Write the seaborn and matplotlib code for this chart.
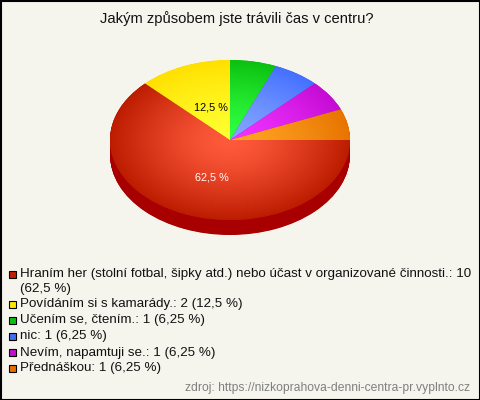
import numpy as np
import matplotlib
matplotlib.use('Agg')
import matplotlib.pyplot as plt
from matplotlib.patches import Rectangle
import seaborn as sns

title = 'Jakým způsobem jste trávili čas v centru?'
source = 'zdroj: https://nizkoprahova-denni-centra-pr.vyplnto.cz'
counts = [10, 2, 1, 1, 1, 1]
legend_lines = [
    'Hraním her (stolní fotbal, šipky atd.) nebo účast v organizované činnosti.: 10',
    '(62,5 %)',
    'Povídáním si s kamarády.: 2 (12,5 %)',
    'Učením se, čtením.: 1 (6,25 %)',
    'nic: 1 (6,25 %)',
    'Nevím, napamtuji se.: 1 (6,25 %)',
    'Přednáškou: 1 (6,25 %)',
]
line_y = [274, 289, 304, 320, 336, 353, 368]
swatch_y = [274, 304, 320, 336, 352, 368]
inner_colors = ['#ff5a3c', '#ffff30', '#30ff40', '#84a4ff', '#f033ff', '#ffa424']
outer_colors = ['#bc1c00', '#ffe000', '#0cc010', '#4470ff', '#c40cd4', '#e87400']
swatch_colors = ['#c02000', '#ffe800', '#10c010', '#4070f0', '#c010d0', '#e87000']
side_color = '#a80000'
bg = '#f5f5ee'

sns.set_theme(style='white', rc={'figure.facecolor': bg, 'axes.facecolor': bg})
plt.rcParams['font.family'] = ['Liberation Sans', 'DejaVu Sans']

fig = plt.figure(figsize=(4.8, 4), dpi=100)
ax = fig.add_axes([0, 0, 1, 1])

# pie depth, stacked copies going down
for d in np.linspace(15 / 80, 0, 31)[:-1]:
    ax.pie([1], colors=[side_color], radius=1, center=(0, -d), startangle=0,
           wedgeprops={'linewidth': 0})


def pct_label(p):
    return f'{p:.1f} %'.replace('.', ',') if p > 10 else ''


wedges, _, pcts = ax.pie(counts, colors=outer_colors, startangle=0, counterclock=False,
                         radius=1, autopct=pct_label, pctdistance=0.47,
                         textprops={'fontsize': 7.8}, wedgeprops={'linewidth': 0})
pcts[0].set_color('white')
pcts[1].set_color('black')

# radial gradient per slice
gx, gy = np.meshgrid(np.linspace(-1, 1, 500), np.linspace(-1, 1, 500))
dist = np.clip(np.hypot(gx, gy), 0, 1) ** 1.4
for w, c0, c1 in zip(wedges, inner_colors, outer_colors):
    cmap = sns.blend_palette([c0, c1], as_cmap=True)
    im = ax.imshow(dist, cmap=cmap, extent=(-1, 1, -1, 1), origin='lower',
                   aspect='auto', zorder=w.get_zorder() + 0.5, vmin=0, vmax=1)
    im.set_clip_path(w)
for t in pcts:
    t.set_zorder(10)
    x, y = t.get_position()
    t.set_position((x + 3 / 120, y - 2.5 / 80))

ax.set_xlim(-230 / 120, 250 / 120)
ax.set_ylim((140 - 400) / 80, 140 / 80)
ax.set_aspect('auto')
ax.axis('off')

# overlay in pixel units for texts and the frame
ov = fig.add_axes([0, 0, 1, 1], facecolor='none')
ov.set_xlim(0, 480)
ov.set_ylim(400, 0)
ov.axis('off')

ov.text(237, 19, title, ha='center', va='center', fontsize=10.6, color='#111111')
for text, y in zip(legend_lines, line_y):
    ov.text(20, y, text, ha='left', va='center', fontsize=9.6, color='#111111')
for color, y in zip(swatch_colors, swatch_y):
    ov.add_patch(Rectangle((9, y - 3.5), 7, 7, facecolor=color, edgecolor='black', lw=0.8))
ov.text(470, 388, source, ha='right', va='center', fontsize=8.75, color='#808080')
ov.add_patch(Rectangle((0.5, 0.5), 479, 399, facecolor='none', edgecolor='black', lw=1.5, clip_on=False))

fig.savefig('out.png', dpi=100, facecolor=bg)
